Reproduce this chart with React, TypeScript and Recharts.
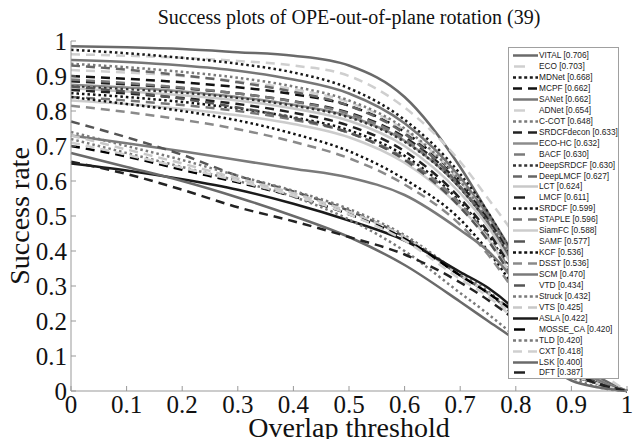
import React from "react";
import { LineChart, Line, XAxis, YAxis, Legend } from "recharts";

const thresholds = [0, 0.1, 0.2, 0.3, 0.4, 0.5, 0.6, 0.7, 0.75, 0.8, 0.85, 0.9, 0.95, 1];
const axisTicks = [0, 0.1, 0.2, 0.3, 0.4, 0.5, 0.6, 0.7, 0.8, 0.9, 1];

const names = [
  "VITAL", "ECO", "MDNet", "MCPF", "SANet", "ADNet", "C-COT", "SRDCFdecon", "ECO-HC", "BACF",
  "DeepSRDCF", "DeepLMCF", "LCT", "LMCF", "SRDCF", "STAPLE", "SiamFC", "SAMF", "KCF", "DSST",
  "SCM", "VTD", "Struck", "VTS", "ASLA", "MOSSE_CA", "TLD", "CXT", "LSK", "DFT",
];
const scores = [
  "0.706", "0.703", "0.668", "0.662", "0.662", "0.654", "0.648", "0.633", "0.632", "0.630",
  "0.630", "0.627", "0.624", "0.611", "0.599", "0.596", "0.588", "0.577", "0.536", "0.536",
  "0.470", "0.434", "0.432", "0.425", "0.422", "0.420", "0.420", "0.418", "0.400", "0.387",
];

const vital = [0.985, 0.982, 0.977, 0.968, 0.958, 0.93, 0.84, 0.64, 0.51, 0.38, 0.24, 0.11, 0.04, 0];
const eco = [0.962, 0.958, 0.952, 0.943, 0.93, 0.9, 0.81, 0.655, 0.55, 0.44, 0.3, 0.16, 0.06, 0];
const mdnet = [0.975, 0.965, 0.952, 0.935, 0.91, 0.865, 0.775, 0.62, 0.51, 0.37, 0.22, 0.1, 0.03, 0];
const mcpf = [0.9, 0.892, 0.882, 0.868, 0.848, 0.815, 0.74, 0.6, 0.5, 0.37, 0.22, 0.1, 0.03, 0];
const sanet = [0.946, 0.94, 0.93, 0.915, 0.89, 0.85, 0.765, 0.61, 0.5, 0.37, 0.22, 0.1, 0.03, 0];
const adnet = [0.917, 0.91, 0.9, 0.885, 0.862, 0.825, 0.745, 0.6, 0.49, 0.36, 0.21, 0.09, 0.03, 0];
const ccot = [0.935, 0.925, 0.912, 0.895, 0.87, 0.83, 0.75, 0.6, 0.49, 0.36, 0.21, 0.09, 0.03, 0];
const srdcfdecon = [0.885, 0.876, 0.865, 0.85, 0.828, 0.795, 0.725, 0.59, 0.49, 0.36, 0.21, 0.09, 0.03, 0];
const ecohc = [0.875, 0.867, 0.856, 0.84, 0.818, 0.785, 0.715, 0.58, 0.48, 0.35, 0.21, 0.09, 0.03, 0];
const bacf = [0.89, 0.88, 0.867, 0.85, 0.827, 0.792, 0.72, 0.58, 0.48, 0.35, 0.2, 0.09, 0.03, 0];
const deepsrdcf = [0.87, 0.862, 0.852, 0.837, 0.815, 0.782, 0.712, 0.58, 0.48, 0.35, 0.21, 0.09, 0.03, 0];
const deeplmcf = [0.93, 0.918, 0.902, 0.882, 0.855, 0.815, 0.735, 0.585, 0.48, 0.35, 0.2, 0.09, 0.03, 0];
const lct = [0.865, 0.856, 0.845, 0.83, 0.807, 0.772, 0.7, 0.565, 0.47, 0.34, 0.2, 0.09, 0.03, 0];
const lmcf = [0.86, 0.85, 0.837, 0.82, 0.795, 0.758, 0.685, 0.55, 0.455, 0.33, 0.19, 0.08, 0.02, 0];
const srdcf = [0.851, 0.84, 0.826, 0.807, 0.782, 0.745, 0.672, 0.54, 0.445, 0.32, 0.18, 0.08, 0.02, 0];
const staple = [0.84, 0.83, 0.817, 0.8, 0.775, 0.738, 0.665, 0.535, 0.44, 0.32, 0.19, 0.08, 0.02, 0];
const siamfc = [0.83, 0.82, 0.806, 0.788, 0.763, 0.725, 0.652, 0.525, 0.435, 0.31, 0.18, 0.08, 0.02, 0];
const samf = [0.87, 0.855, 0.835, 0.81, 0.78, 0.738, 0.66, 0.525, 0.43, 0.31, 0.18, 0.08, 0.02, 0];
const kcf = [0.84, 0.82, 0.8, 0.773, 0.735, 0.685, 0.605, 0.49, 0.4, 0.29, 0.17, 0.07, 0.02, 0];
const dsst = [0.815, 0.797, 0.775, 0.748, 0.712, 0.665, 0.59, 0.475, 0.39, 0.28, 0.17, 0.07, 0.02, 0];
const scm = [0.73, 0.708, 0.685, 0.66, 0.635, 0.61, 0.56, 0.46, 0.4, 0.31, 0.19, 0.08, 0.03, 0];
const vtd = [0.77, 0.725, 0.675, 0.615, 0.57, 0.515, 0.44, 0.33, 0.28, 0.21, 0.12, 0.05, 0.02, 0];
const struck = [0.74, 0.7, 0.66, 0.615, 0.572, 0.52, 0.445, 0.335, 0.285, 0.215, 0.12, 0.05, 0.02, 0];
const vts = [0.73, 0.69, 0.65, 0.607, 0.565, 0.512, 0.44, 0.33, 0.28, 0.21, 0.12, 0.05, 0.02, 0];
const asla = [0.65, 0.63, 0.605, 0.575, 0.535, 0.487, 0.43, 0.34, 0.295, 0.23, 0.14, 0.06, 0.02, 0];
const mosse = [0.7, 0.67, 0.632, 0.596, 0.556, 0.505, 0.435, 0.33, 0.28, 0.22, 0.13, 0.05, 0.02, 0];
const tld = [0.72, 0.68, 0.64, 0.6, 0.555, 0.49, 0.4, 0.28, 0.22, 0.155, 0.09, 0.04, 0.01, 0];
const cxt = [0.71, 0.675, 0.638, 0.6, 0.558, 0.505, 0.43, 0.32, 0.27, 0.2, 0.11, 0.05, 0.02, 0];
const lsk = [0.68, 0.64, 0.6, 0.553, 0.5, 0.44, 0.36, 0.255, 0.2, 0.145, 0.08, 0.03, 0.01, 0];
const dft = [0.655, 0.62, 0.575, 0.525, 0.485, 0.44, 0.39, 0.31, 0.26, 0.2, 0.12, 0.05, 0.02, 0];

const series = [
  vital, eco, mdnet, mcpf, sanet, adnet, ccot, srdcfdecon, ecohc, bacf,
  deepsrdcf, deeplmcf, lct, lmcf, srdcf, staple, siamfc, samf, kcf, dsst,
  scm, vtd, struck, vts, asla, mosse, tld, cxt, lsk, dft,
];

// line look, same order as names
const colors = [
  "#6a6a6a", "#cfcfcf", "#1a1a1a", "#111111", "#777777", "#d0d0d0", "#7a7a7a", "#222222", "#8c8c8c", "#7a7a7a",
  "#333333", "#666666", "#c8c8c8", "#222222", "#111111", "#777777", "#cccccc", "#555555", "#111111", "#8a8a8a",
  "#7a7a7a", "#555555", "#7a7a7a", "#c8c8c8", "#1a1a1a", "#000000", "#7a7a7a", "#cfcfcf", "#6a6a6a", "#222222",
];
const kinds = [
  "solid", "short", "dot", "dash", "solid", "short", "dot", "dash", "solid", "short",
  "dot", "dash", "solid", "short", "dot", "dash", "solid", "short", "dot", "dash",
  "solid", "short", "dot", "dash", "solid", "short", "dot", "dash", "solid", "short",
];

const plotDash: Record<string, string | undefined> = {
  solid: undefined,
  dash: "9 6",
  short: "9 6",
  dot: "2.5 3",
};

const data = thresholds.map((t, i) => {
  const row: Record<string, number> = { t };
  names.forEach((n, k) => {
    row[n] = series[k][i];
  });
  return row;
});

const serif = '"Liberation Serif", "Times New Roman", serif';
const sans = '"Liberation Sans", Arial, sans-serif';
const ROW = 10.94;

const LegendSample = ({ kind, color }: { kind: string; color: string }) => {
  if (kind === "short") {
    return <line x1={5} x2={16} y1={5.5} y2={5.5} stroke={color} strokeWidth={2.5} />;
  }
  if (kind === "dot") {
    return <line x1={4} x2={29} y1={5.5} y2={5.5} stroke={color} strokeWidth={2.5} strokeDasharray="3 2.6" />;
  }
  if (kind === "dash") {
    return <line x1={4} x2={29} y1={5.5} y2={5.5} stroke={color} strokeWidth={2.5} strokeDasharray="9 6" />;
  }
  return <line x1={4} x2={29} y1={5.5} y2={5.5} stroke={color} strokeWidth={2.5} />;
};

const renderLegend = () => (
  <div
    style={{
      position: "relative",
      background: "#fff",
      border: "1px solid #a0a0a0",
      width: 111,
      height: 332,
      boxSizing: "border-box",
      overflow: "hidden",
    }}
  >
    {names.map((n, i) => (
      <div
        key={n}
        style={{
          position: "absolute",
          left: 0,
          top: 2.2 + i * ROW,
          height: 11,
          width: 110,
          display: "flex",
          alignItems: "center",
        }}
      >
        <svg width={30} height={11} style={{ flex: "none", display: "block" }}>
          <LegendSample kind={kinds[i]} color={colors[i]} />
        </svg>
        <span style={{ fontSize: 8.3, lineHeight: "11px", fontFamily: sans, color: "#222", whiteSpace: "nowrap" }}>
          {n} [{scores[i]}]
        </span>
      </div>
    ))}
  </div>
);

export default function App() {
  return (
    <div style={{ position: "absolute", left: 0, top: 0, width: 637, height: 439, background: "#fff", overflow: "hidden" }}>
      <svg width={637} height={439} style={{ position: "absolute", left: 0, top: 0 }}>
        <text x={349} y={24} textAnchor="middle" fontFamily={serif} fontSize={20} fill="#111">
          Success plots of OPE-out-of-plane rotation (39)
        </text>
        <text x={349} y={437} textAnchor="middle" fontFamily={serif} fontSize={28} fill="#111">
          Overlap threshold
        </text>
        <text
          x={29}
          y={216}
          textAnchor="middle"
          fontFamily={serif}
          fontSize={28}
          fill="#111"
          transform="rotate(-90, 29, 216)"
        >
          Success rate
        </text>
      </svg>
      <div style={{ position: "absolute", left: 0, top: 0 }}>
        <LineChart width={637} height={439} data={data} margin={{ top: 41, right: 10, bottom: 18, left: 31 }}>
          <XAxis
            dataKey="t"
            type="number"
            domain={[0, 1]}
            ticks={axisTicks}
            tickFormatter={(v) => String(v)}
            height={30}
            stroke="#999"
            tickSize={-5}
            tickMargin={9}
            tick={{ fill: "#111", fontSize: 25, fontFamily: serif }}
            interval={0}
          />
          <XAxis
            xAxisId="top"
            orientation="top"
            type="number"
            domain={[0, 1]}
            ticks={axisTicks}
            height={0}
            stroke="#999"
            tickSize={-5}
            tick={false}
          />
          <YAxis
            type="number"
            domain={[0, 1]}
            ticks={axisTicks}
            tickFormatter={(v) => String(v)}
            width={40}
            stroke="#999"
            tickSize={-5}
            tickMargin={9}
            tick={{ fill: "#111", fontSize: 25, fontFamily: serif }}
            interval={0}
          />
          <YAxis
            yAxisId="right"
            orientation="right"
            type="number"
            domain={[0, 1]}
            ticks={axisTicks}
            width={0}
            stroke="#999"
            tickSize={-5}
            tick={false}
          />
          {names.map((n, i) => (
            <Line
              key={n}
              type="monotone"
              dataKey={n}
              stroke={colors[i]}
              strokeWidth={2.5}
              strokeDasharray={plotDash[kinds[i]]}
              dot={false}
              activeDot={false}
              isAnimationActive={false}
            />
          ))}
          <Legend
            layout="vertical"
            align="center"
            verticalAlign="middle"
            content={renderLegend}
            wrapperStyle={{ left: 508, top: 47, width: 111, height: 332 }}
          />
        </LineChart>
      </div>
    </div>
  );
}
